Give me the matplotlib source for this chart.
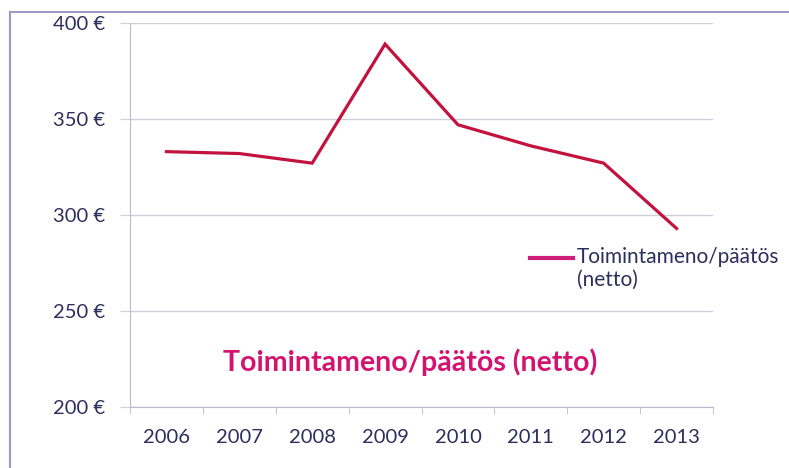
import numpy as np
import matplotlib.pyplot as plt
from matplotlib.lines import Line2D

years = ['2006', '2007', '2008', '2009', '2010', '2011', '2012', '2013']
netto = [333, 332, 327, 389, 347, 336, 327, 293]
y_ticks = [200, 250, 300, 350, 400]
series_label = 'Toimintameno/päätös\n(netto)'
title = 'Toimintameno/päätös (netto)'

plt.rcParams['font.family'] = ['Lato', 'DejaVu Sans']
navy = '#2c2f5c'
grid_col = '#cfcfdc'

fig = plt.figure(figsize=(7.89, 4.68), dpi=100)
ax = fig.add_axes([0.1648, 0.1303, 0.7389, 0.8206])

x = np.arange(len(years))
ax.plot(x, netto, color='#c4123f', lw=2.3, solid_joinstyle='miter')

ax.set_xlim(-0.5, len(years) - 0.5)
ax.set_ylim(200, 400)
ax.set_yticks(y_ticks)
ax.set_yticklabels([f'{v} €' for v in y_ticks])
ax.set_xticks(x)
ax.set_xticklabels(years)
ax.set_xticks(np.arange(-0.5, len(years)), minor=True)

ax.grid(axis='y', color=grid_col, lw=1.0)
ax.set_axisbelow(True)
for s in ['top', 'right']:
    ax.spines[s].set_visible(False)
ax.spines['left'].set_color('#b9b9cc')
ax.spines['bottom'].set_color('#b9b9cc')
ax.tick_params(axis='x', which='major', length=0, pad=16, labelsize=14.5, labelcolor=navy)
ax.tick_params(axis='x', which='minor', length=5, color='#b9b9cc')
ax.tick_params(axis='y', length=7, color=grid_col, pad=11, labelsize=14.5, labelcolor=navy)

# title inside the plot
fig.text(0.52, 0.227, title, ha='center', va='center', fontsize=20.5,
         fontweight='bold', color='#d3136f')

# legend
fig.add_artist(Line2D([530 / 789, 573 / 789], [1 - 258 / 468, 1 - 258 / 468],
                      color='#d01f78', lw=3))
fig.text(577 / 789, 1 - 247 / 468, series_label, ha='left', va='top',
         fontsize=15, color=navy, linespacing=1.15,
         transform=fig.transFigure)

# scanned frame
fig.add_artist(Line2D([10 / 789, 10 / 789], [0, 1 - 12 / 468], color='#9a9ac4', lw=1.5))
fig.add_artist(Line2D([10 / 789, 1], [1 - 12 / 468, 1 - 12 / 468], color='#9a9ac4', lw=1.5))

fig.savefig('out.png', dpi=100)
